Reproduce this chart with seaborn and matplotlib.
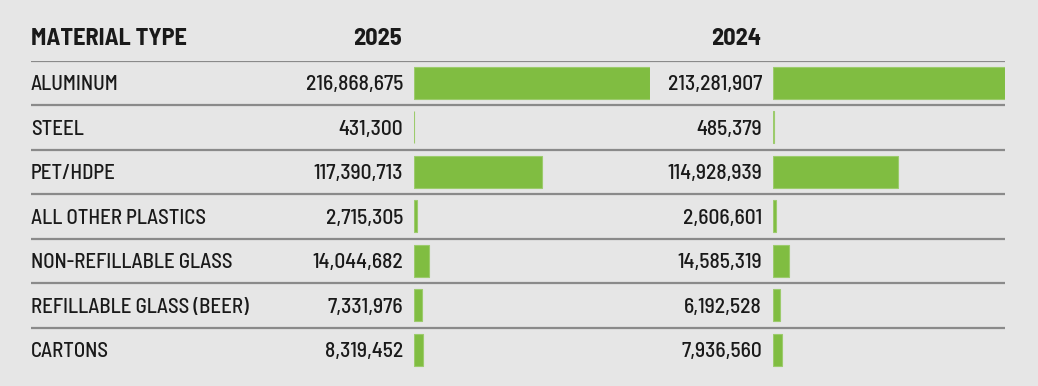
import pandas as pd
import seaborn as sns
import matplotlib.pyplot as plt

# data
materials = ["ALUMINUM", "STEEL", "PET/HDPE", "ALL OTHER PLASTICS",
             "NON-REFILLABLE GLASS", "REFILLABLE GLASS (BEER)", "CARTONS"]
values_2025 = [216868675, 431300, 117390713, 2715305, 14044682, 7331976, 8319452]
values_2024 = [213281907, 485379, 114928939, 2606601, 14585319, 6192528, 7936560]
years = ["2025", "2024"]

df = pd.DataFrame({"material": materials, "2025": values_2025, "2024": values_2024})

sns.set_theme(style="white")
plt.rcParams['font.family'] = ['Barlow Semi Condensed', 'DejaVu Sans']

bg = "#e6e6e6"
green = "#80bd41"
edge = "#9ccb6c"
line_col = "#8a8a8a"
txt = "#1a1a1a"

W, H = 1038, 386
top_px, row_h = 60.5, 44.5
n = len(materials)
bottom = 1 - (top_px + row_h * n) / H
height = row_h * n / H

fig = plt.figure(figsize=(W / 100, H / 100), dpi=100, facecolor=bg)

# table layer: x in pixels, y in row index
tab = fig.add_axes([0, bottom, 1, height])
tab.set_xlim(0, W)
tab.set_ylim(n - 0.5, -0.5)
tab.axis("off")
tab.hlines([i - 0.5 for i in range(n)], 31, 1005, color=line_col, lw=1.6)

hy = -0.98
tab.text(31, hy, "MATERIAL TYPE", fontsize=17.5, fontweight="bold",
         va="center", color=txt, clip_on=False)
tab.text(402, hy, years[0], fontsize=17.5, fontweight="bold",
         ha="right", va="center", color=txt, clip_on=False)
tab.text(761, hy, years[1], fontsize=17.5, fontweight="bold",
         ha="right", va="center", color=txt, clip_on=False)

for i, m in enumerate(materials):
    y = i + 0.04
    tab.text(31, y, m, fontsize=15, fontweight="medium", va="center", color=txt)
    tab.text(403, y, f"{values_2025[i]:,}", fontsize=15.5, fontweight="medium",
             ha="right", va="center", color=txt)
    tab.text(762, y, f"{values_2024[i]:,}", fontsize=15.5, fontweight="medium",
             ha="right", va="center", color=txt)

# bars
ax25 = fig.add_axes([414 / W, bottom, 236 / W, height])
ax24 = fig.add_axes([773 / W, bottom, 232 / W, height])
for ax, yr in [(ax25, "2025"), (ax24, "2024")]:
    sns.barplot(data=df, y="material", x=yr, ax=ax, color=green,
                saturation=1, width=0.72, orient="h",
                edgecolor=edge, linewidth=0.8)
    ax.set_xlim(0, df[yr].max())
    ax.set_ylim(n - 0.5, -0.5)
    ax.set_facecolor("none")
    ax.axis("off")

fig.savefig("out.png", dpi=100, facecolor=bg)
